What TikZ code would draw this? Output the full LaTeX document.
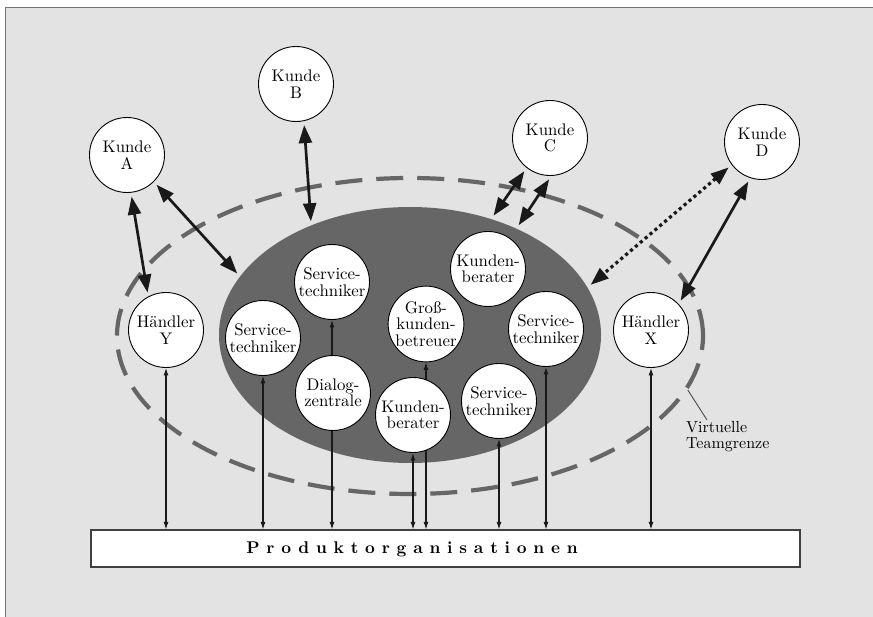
\documentclass[tikz,border=0pt]{standalone}
\usepackage{fontspec}
\setmainfont{lmroman10-regular}[Extension=.otf, BoldFont=lmroman10-bold,
  ItalicFont=lmroman10-italic, BoldItalicFont=lmroman10-bolditalic]
\newfontfamily\spacedbold{lmroman10-bold}[Extension=.otf, LetterSpace=40]
\usetikzlibrary{shapes.geometric,arrows.meta}
\pgfdeclarelayer{back}
\pgfdeclarelayer{mid}
\pgfsetlayers{back,mid,main}
\begin{document}
\begin{tikzpicture}[x=1pt,y=-1pt,
  every node/.style={font=\fontsize{16.8}{16.5}\selectfont},
  person/.style={circle, draw=black, line width=0.9pt, fill=white,
    minimum size=75pt, inner sep=0pt, align=center},
  bigarrow/.style={line width=2.7pt, draw=black!90,
    {Triangle[length=18pt,width=13pt]}-{Triangle[length=18pt,width=13pt]},
    shorten >=4pt, shorten <=4pt},
  dotarrow/.style={bigarrow, dash pattern=on 3.2pt off 3.2pt, line width=3.2pt},
  thinarrow/.style={line width=1.1pt, draw=black!90,
    {Latex[length=7.5pt,width=5pt]}-{Latex[length=7.5pt,width=5pt]}},
  teamcore/.style={ellipse, fill=black!60, draw=none, inner sep=0pt,
    minimum width=382pt, minimum height=256pt},
  teamline/.style={ellipse, draw=black!60, line width=4.2pt,
    dash pattern=on 27pt off 14pt, inner sep=0pt,
    minimum width=586pt, minimum height=316pt},
  orgbox/.style={rectangle, draw=black!75, line width=1.2pt, fill=white,
    minimum width=709pt, minimum height=37pt, inner sep=0pt},
  leader/.style={draw=black!70, line width=0.9pt}
]
\useasboundingbox (0,0) rectangle (873,617);

\begin{pgfonlayer}{back}
  \fill[white] (0,0) rectangle (873,617);
  \fill[black!11] (5,8) rectangle (873,617);
  \draw[black!55, line width=1pt] (5,617) -- (5,8) -- (873,8);
  \node[teamline] (teamb) at (410,336) {};
  \node[teamcore] (team) at (410,335) {};
\end{pgfonlayer}

% persons
\node[person] (kA) at (127,155) {Kunde\\A};
\node[person] (kB) at (296,84) {Kunde\\B};
\node[person] (kC) at (550,138) {Kunde\\C};
\node[person] (kD) at (762,142) {Kunde\\D};
\node[person] (hY) at (166,330) {Händler\\Y};
\node[person] (hX) at (651,330) {Händler\\X};
\node[person] (stA) at (332,282) {Service-\\techniker};
\node[person] (stB) at (263,338) {Service-\\techniker};
\node[person] (dz) at (333,393) {Dialog-\\zentrale};
\node[person] (gk) at (426,324) {Groß-\\kunden-\\betreuer};
\node[person] (kbA) at (488,269) {Kunden-\\berater};
\node[person] (stC) at (546,329) {Service-\\techniker};
\node[person] (kbB) at (413,415) {Kunden-\\berater};
\node[person] (stD) at (499,401) {Service-\\techniker};

% product organisations
\node[orgbox] (box) at (445.5,548.5) {};
\node[inner sep=0pt, font=\fontsize{17}{17}\selectfont] (boxtext) at (412,549)
  {\spacedbold Produktorganisationen};

% label
\node[anchor=north west, inner sep=0pt, align=left,
  font=\fontsize{16}{16}\selectfont] (lbl) at (686,421) {Virtuelle\\Teamgrenze};

\begin{pgfonlayer}{mid}
  % thick connectors
  \draw[bigarrow] (kA.-84) -- (hY.118);
  \draw[bigarrow] (kA.-45) -- (team.161);
  \draw[bigarrow] (kB.-78) -- (team.132);
  \draw[bigarrow] (kC.-128) -- (team.55);
  \draw[bigarrow] (kC.-88) -- (team.45);
  \draw[dotarrow] (kD.-143) -- (team.15);
  \draw[bigarrow] (kD.-108) -- (hX.43);
  % thin connectors to product organisations
  \draw[thinarrow] (hY.south) -- (hY.south |- box.north);
  \draw[thinarrow] (stB.south) -- (stB.south |- box.north);
  \draw[thinarrow] (stA.south) -- (stA.south |- box.north);
  \draw[thinarrow] (kbB.south) -- (kbB.south |- box.north);
  \draw[thinarrow] (gk.south) -- (gk.south |- box.north);
  \draw[thinarrow] (stD.south) -- (stD.south |- box.north);
  \draw[thinarrow] (stC.south) -- (stC.south |- box.north);
  \draw[thinarrow] (hX.south) -- (hX.south |- box.north);
  % leader of the label
  \draw[leader] (teamb.-11) -- ([xshift=21pt,yshift=1pt]lbl.north west);
\end{pgfonlayer}
\end{tikzpicture}
\end{document}
